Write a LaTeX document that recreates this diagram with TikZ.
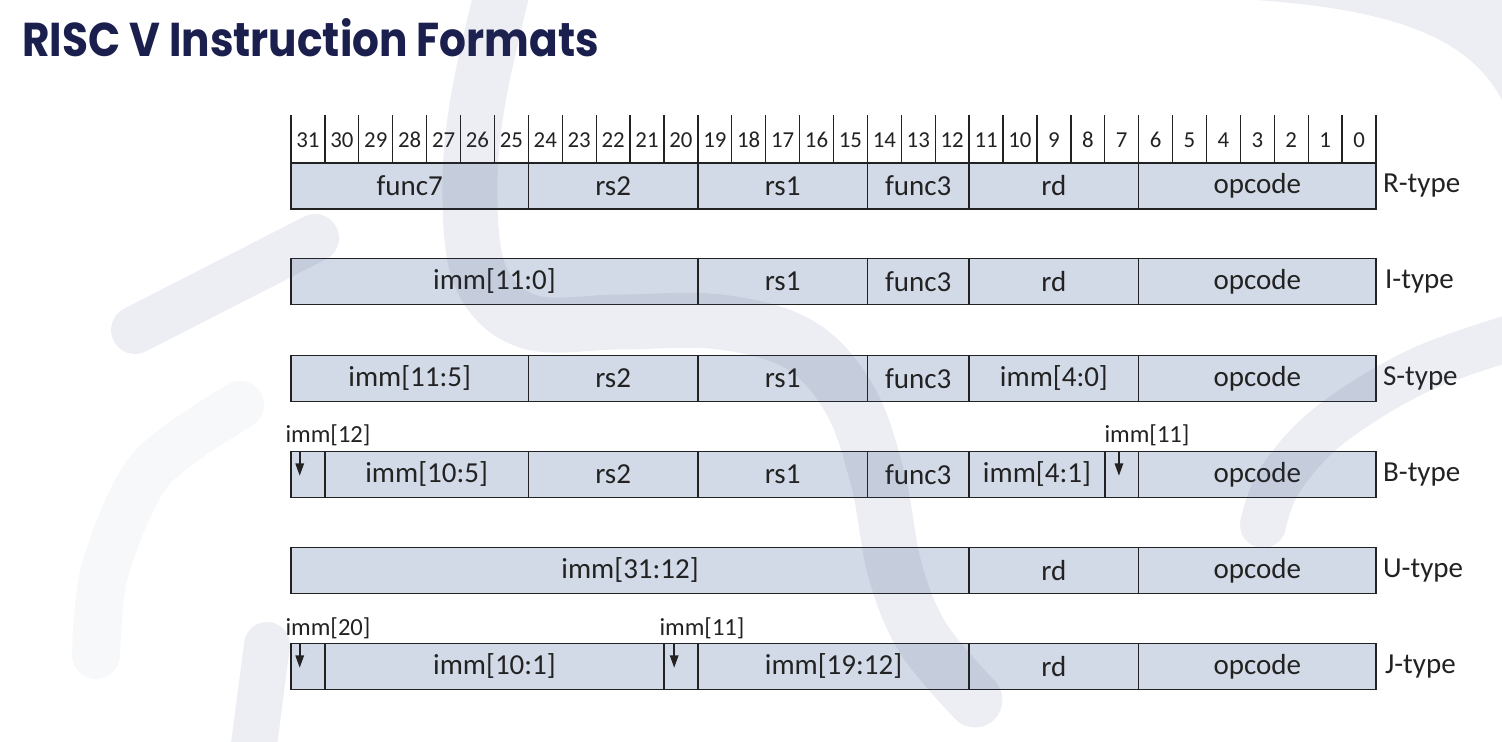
\documentclass[tikz,border=0pt]{standalone}
\usepackage{fontspec}
\setmainfont{Carlito}
\newfontfamily\titlefont{Poppins}
\usetikzlibrary{positioning, arrows.meta, calc}

\definecolor{fieldblue}{HTML}{D3DAE7}
\definecolor{titlenavy}{HTML}{1B1F4D}
\definecolor{swoosh}{RGB}{60,70,120}
\definecolor{inkgray}{HTML}{222222}

\begin{document}
\begin{tikzpicture}[
    x=0.02cm, y=-0.02cm,
    field/.style={draw=inkgray, fill=fieldblue, line width=0.9pt, minimum height=0.92cm,
        inner sep=0pt, text=inkgray, font=\fontsize{16.5}{18}\selectfont},
    bitnum/.style={inner sep=0pt, text=inkgray, font=\fontsize{13}{14}\selectfont},
    rowlabel/.style={anchor=west, inner sep=0pt, text=inkgray, font=\fontsize{16.5}{18}\selectfont},
    immlabel/.style={inner sep=0pt, text=inkgray, font=\fontsize{14}{15}\selectfont},
    swooshband/.style={draw=swoosh, draw opacity=0.09, line cap=round, line width={#1*0.569pt}},
    >={Triangle[length=7pt, width=4.8pt]}
]

\useasboundingbox (0,0) rectangle (1502,742);

% Title
\node[anchor=base west, inner sep=0pt, text=titlenavy] (title) at (22,57)
    {\scalebox{0.89}[1]{\titlefont\bfseries\fontsize{27}{30}\selectfont RISC V Instruction Formats}};

% Bit ruler
\foreach \i in {0,...,32}
    \draw[inkgray, line width=0.75pt] ({291+\i*33.906},115) -- ({291+\i*33.906},163);
\foreach \b in {0,...,31}
    \node[bitnum] (bit\b) at ({291+(31.5-\b)*33.906},140) {\b};

% Instruction fields: row centre / high bit / low bit / text / name
\foreach \y/\hi/\lo/\txt/\nm in {
    186/31/25/func7/rf7, 186/24/20/rs2/rrs2, 186/19/15/rs1/rrs1,
    186/14/12/func3/rf3, 186/11/7/rd/rrd, 186/6/0/opcode/rop,
    281.5/31/20/{imm[11:0]}/iimm, 281.5/19/15/rs1/irs1, 281.5/14/12/func3/if3,
    281.5/11/7/rd/ird, 281.5/6/0/opcode/iop,
    378.5/31/25/{imm[11:5]}/simmh, 378.5/24/20/rs2/srs2, 378.5/19/15/rs1/srs1,
    378.5/14/12/func3/sf3, 378.5/11/7/{imm[4:0]}/simml, 378.5/6/0/opcode/sop,
    474.5/31/31/{}/bimm12, 474.5/30/25/{imm[10:5]}/bimmh, 474.5/24/20/rs2/brs2,
    474.5/19/15/rs1/brs1, 474.5/14/12/func3/bf3, 474.5/11/8/{imm[4:1]}/bimml,
    474.5/7/7/{}/bimm11, 474.5/6/0/opcode/bop,
    570.5/31/12/{imm[31:12]}/uimm, 570.5/11/7/rd/urd, 570.5/6/0/opcode/uop,
    666.5/31/31/{}/jimm20, 666.5/30/21/{imm[10:1]}/jimml, 666.5/20/20/{}/jimm11,
    666.5/19/12/{imm[19:12]}/jimmh, 666.5/11/7/rd/jrd, 666.5/6/0/opcode/jop}
    \node[field, minimum width={(\hi-\lo+1)*0.67812cm}] (\nm)
        at ({291+(31-\hi)*33.906+(\hi-\lo+1)*16.953},\y) {\txt};

% Format names
\node[rowlabel] (rtype) at ($(rop.east)+(6,0)$) {R-type};
\node[rowlabel] (itype) at ($(iop.east)+(8,0)$) {I-type};
\node[rowlabel] (stype) at ($(sop.east)+(6,0)$) {S-type};
\node[rowlabel] (btype) at ($(bop.east)+(6,0)$) {B-type};
\node[rowlabel] (utype) at ($(uop.east)+(6,0)$) {U-type};
\node[rowlabel] (jtype) at ($(jop.east)+(8,0)$) {J-type};

% Single immediate bits
\node[immlabel] (lb12) at (328,435) {imm[12]};
\node[immlabel] (lb11) at (1147,435) {imm[11]};
\node[immlabel] (lj20) at (328,628) {imm[20]};
\node[immlabel] (lj11) at (702,628) {imm[11]};

\coordinate (b12s) at ($(bimm12.north west)+(9.5,1)$);
\coordinate (b12e) at ($(bimm12.north west)+(9.5,25)$);
\coordinate (b11s) at ($(bimm11.north west)+(15,1)$);
\coordinate (b11e) at ($(bimm11.north west)+(15,25)$);
\coordinate (j20s) at ($(jimm20.north west)+(9.5,1)$);
\coordinate (j20e) at ($(jimm20.north west)+(9.5,25)$);
\coordinate (j11s) at ($(jimm11.north west)+(11,1)$);
\coordinate (j11e) at ($(jimm11.north west)+(11,25)$);
\foreach \s/\e in {b12s/b12e, b11s/b11e, j20s/j20e, j11s/j11e}
    \draw[->, inkgray, line width=0.9pt] (\s) -- (\e);

% Background swooshes
\draw[swooshband=48] (135,330) -- (315,238);
\draw[swooshband=55] plot[smooth, tension=0.6] coordinates {(510,-40) (478,100) (470,200)
    (482,280) (530,322) (620,322) (720,322) (800,345) (850,400) (878,480) (895,570)
    (923,638) (975,700)};
\fill[swoosh, fill opacity=0.09] (1255,0) .. controls (1400,10) and (1470,40) .. (1502,100)
    -- (1502,0) -- cycle;
\draw[swooshband=46] plot[smooth, tension=0.6] coordinates {(1520,335) (1420,370)
    (1330,425) (1280,480) (1263,525)};
\draw[swooshband=46] (252,760) -- (267,645);
\draw[swooshband=48, draw opacity=0.04] plot[smooth] coordinates {(240,405) (150,470)
    (105,570) (96,655)};

\end{tikzpicture}
\end{document}
